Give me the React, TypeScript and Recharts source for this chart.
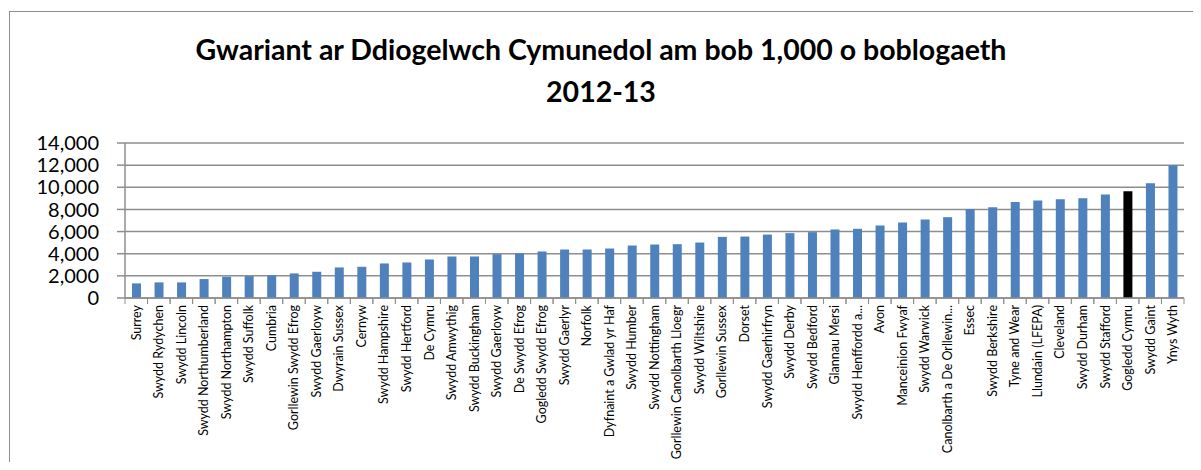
import { BarChart, Bar, XAxis, YAxis, CartesianGrid, Cell } from 'recharts';

const categories = [
  'Surrey', 'Swydd Rydychen', 'Swydd Lincoln', 'Swydd Northumberland', 'Swydd Northampton',
  'Swydd Suffolk', 'Cumbria', 'Gorllewin Swydd Efrog', 'Swydd Gaerloyw', 'Dwyrain Sussex',
  'Cernyw', 'Swydd Hampshire', 'Swydd Hertford', 'De Cymru', 'Swydd Amwythig',
  'Swydd Buckingham', 'Swydd Gaerloyw', 'De Swydd Efrog', 'Gogledd Swydd Efrog', 'Swydd Gaerlyr',
  'Norfolk', 'Dyfnaint a Gwlad yr Haf', 'Swydd Humber', 'Swydd Nottingham', 'Gorllewin Canolbarth Lloegr',
  'Swydd Wiltshire', 'Gorllewin Sussex', 'Dorset', 'Swydd Gaerhirfryn', 'Swydd Derby',
  'Swydd Bedford', 'Glannau Mersi', 'Swydd Henffordd a...', 'Avon', 'Manceinion Fwyaf',
  'Swydd Warwick', 'Canolbarth a De Orllewin...', 'Essec', 'Swydd Berkshire', 'Tyne and Wear',
  'Llundain (LFEPA)', 'Cleveland', 'Swydd Durham', 'Swydd Stafford', 'Gogledd Cymru',
  'Swydd Gaint', 'Ynys Wyth',
];

const spending = [
  1320, 1410, 1410, 1710, 1920, 1980, 2040, 2220, 2370, 2760,
  2820, 3120, 3210, 3480, 3750, 3750, 3960, 4020, 4200, 4380,
  4380, 4470, 4740, 4830, 4860, 5010, 5520, 5550, 5730, 5860,
  5950, 6190, 6250, 6550, 6820, 7090, 7300, 8050, 8200, 8680,
  8800, 8920, 9000, 9340, 9640, 10360, 11980,
];

const highlighted = 'Gogledd Cymru';
const yTicks = [0, 2000, 4000, 6000, 8000, 10000, 12000, 14000];

const data = categories.map((name, i) => ({ name, value: spending[i] }));

const CHART_W = 1190;
const CHART_H = 458;
const MARGIN = { top: 131, right: 16, bottom: 0, left: 0 };
const Y_AXIS_W = 115;
const HALF_BAND = (CHART_W - MARGIN.left - MARGIN.right - Y_AXIS_W) / categories.length / 2;
const GREY = '#8e8e8e';
const FONT = 'Lato, "Open Sans", sans-serif';

function CategoryTick(props: any) {
  const { x, y, payload } = props;
  return (
    <g>
      <line x1={x - HALF_BAND} x2={x - HALF_BAND} y1={y} y2={y + 6} stroke={GREY} />
      <line x1={x + HALF_BAND} x2={x + HALF_BAND} y1={y} y2={y + 6} stroke={GREY} />
      <text
        x={x}
        y={y + 7}
        dy="0.35em"
        textAnchor="end"
        transform={`rotate(-90 ${x} ${y + 7})`}
        fontSize={12.5}
        fontFamily={FONT}
        fill="#000"
      >
        {payload.value}
      </text>
    </g>
  );
}

export default function App() {
  return (
    <div style={{ position: 'relative', width: 1193, height: 454, overflow: 'hidden' }}>
      <div
        style={{
          position: 'absolute', top: 3, left: 1, width: 1250, height: 500,
          border: `1px solid ${GREY}`, background: '#fff',
        }}
      >
        <div
          style={{
            position: 'absolute', top: 16, left: 0, width: 1182, textAlign: 'center',
            fontFamily: FONT, fontWeight: 700, fontSize: 28.5, lineHeight: '42px', color: '#000',
          }}
        >
          Gwariant ar Ddiogelwch Cymunedol am bob 1,000 o boblogaeth
          <br />
          2012-13
        </div>
        <BarChart width={CHART_W} height={CHART_H} data={data} margin={MARGIN} barCategoryGap={0}>
          <CartesianGrid vertical={false} stroke={GREY} strokeWidth={1.5} />
          <XAxis
            dataKey="name"
            interval={0}
            height={CHART_H - MARGIN.top - 155}
            stroke={GREY}
            strokeWidth={1.5}
            tickLine={false}
            tickSize={0}
            tickMargin={0}
            tick={<CategoryTick />}
          />
          <YAxis
            width={Y_AXIS_W}
            domain={[0, 14000]}
            ticks={yTicks}
            interval={0}
            stroke={GREY}
            strokeWidth={1.5}
            tickSize={8}
            tickMargin={18}
            tick={{ fill: '#000', fontSize: 20, fontFamily: FONT }}
            tickFormatter={(v: number) => v.toLocaleString('en-US')}
          />
          <Bar dataKey="value" barSize={9} isAnimationActive={false}>
            {data.map((d, i) => (
              <Cell key={i} fill={d.name === highlighted ? '#000000' : '#4F81BD'} />
            ))}
          </Bar>
        </BarChart>
      </div>
    </div>
  );
}
